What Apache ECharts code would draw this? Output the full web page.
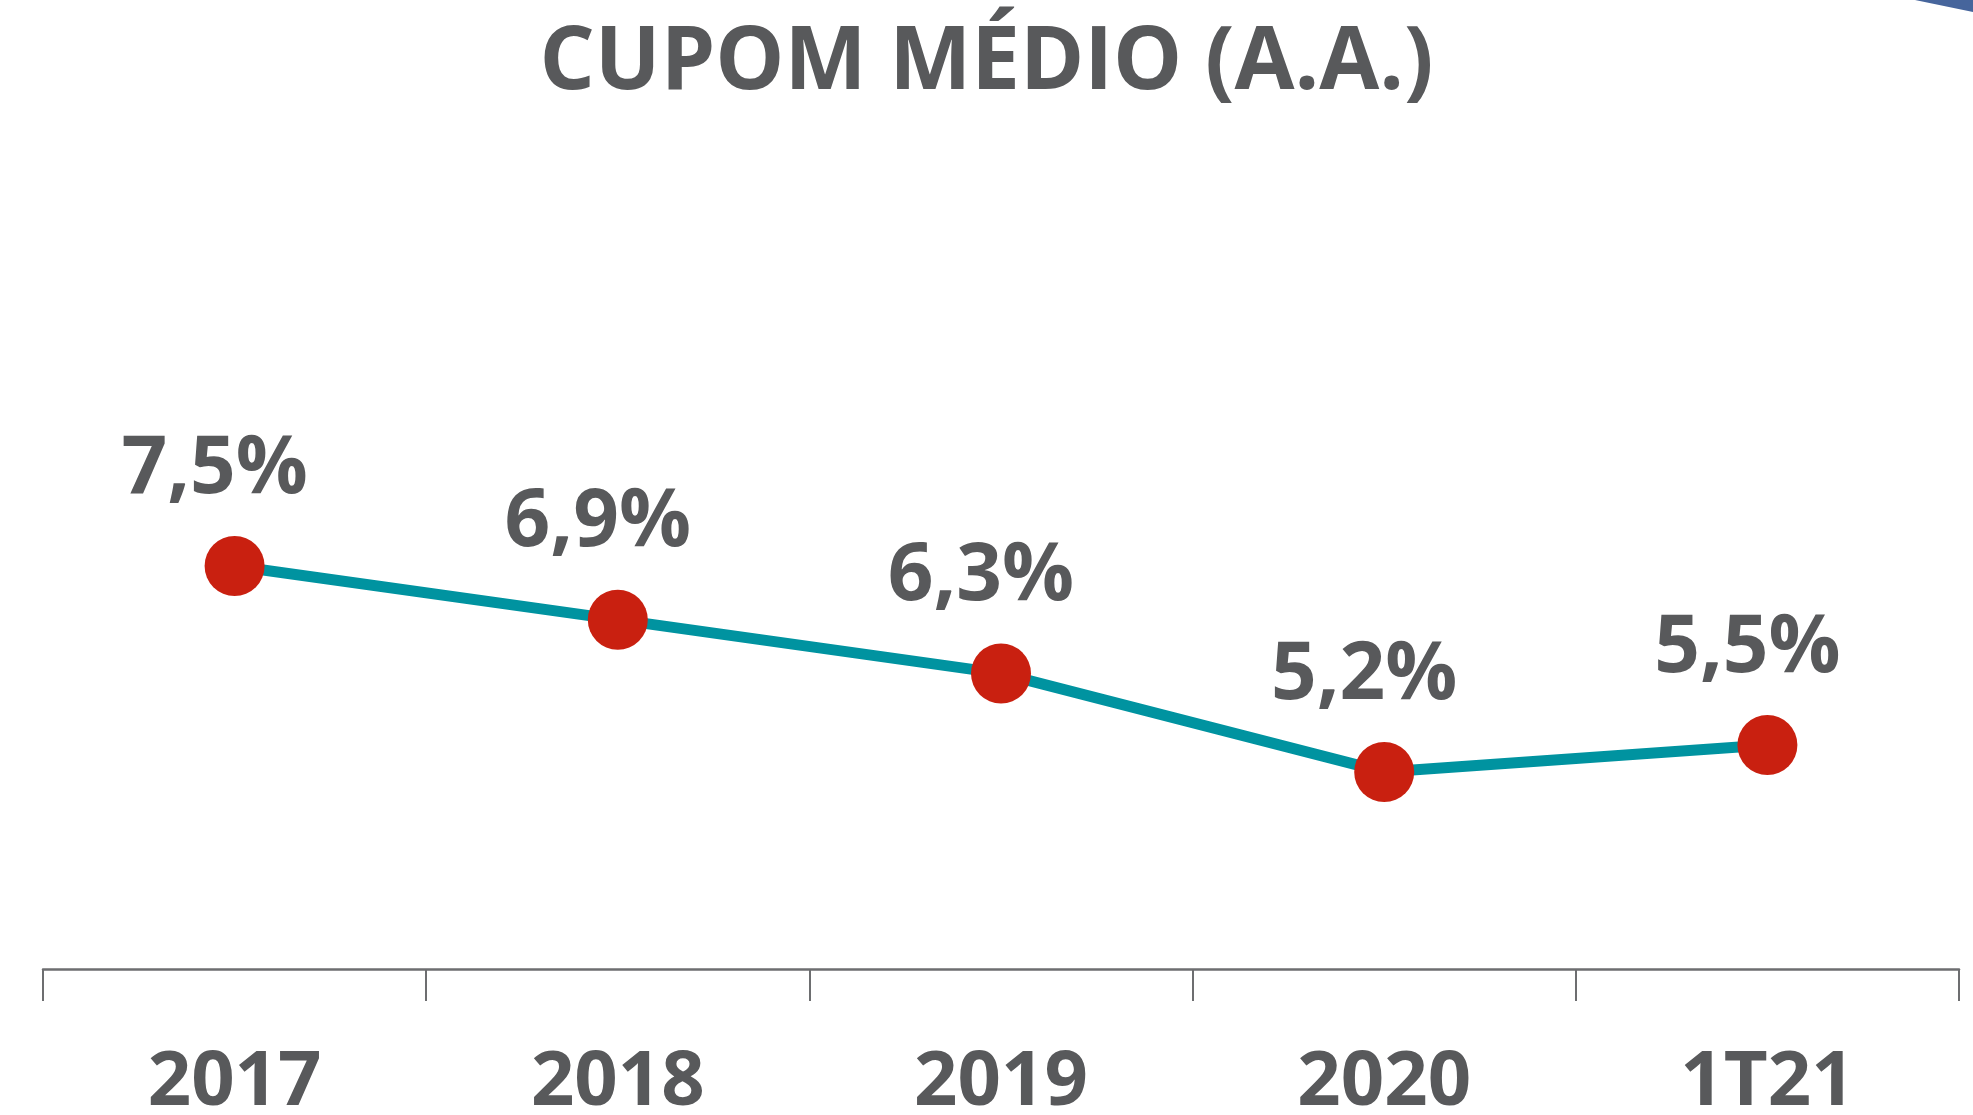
<!DOCTYPE html>
<html>
<head>
<meta charset="utf-8">
<title>Cupom médio (a.a.)</title>
<script src="https://cdn.jsdelivr.net/npm/echarts@6/dist/echarts.min.js"></script>
<style>
  html, body { margin: 0; padding: 0; background: #fff; }
  #chart { width: 1973px; height: 1115px; }
</style>
</head>
<body>
<div id="chart"></div>
<script>
const categories = ['2017', '2018', '2019', '2020', '1T21']
const cupomMedio = [7.5, 6.9, 6.3, 5.2, 5.5]

const textColor = '#58595b'
const fontFamily = '"Open Sans", "Noto Sans", sans-serif'

const chart = echarts.init(document.getElementById('chart'))

chart.setOption({
  animation: false,
  title: {
    text: 'CUPOM MÉDIO (A.A.)',
    left: 'center',
    top: 16,
    textStyle: {
      color: textColor,
      fontFamily: fontFamily,
      fontWeight: 'bold',
      fontSize: 87
    }
  },
  grid: {
    left: 43,
    right: 14,
    top: 342,
    bottom: 146,
    outerBoundsMode: 'none' // não encolher o grid por causa dos rótulos
  },
  xAxis: {
    type: 'category',
    data: categories,
    boundaryGap: true,
    axisLine: {
      show: true,
      lineStyle: { color: '#6d6e70', width: 2.5 }
    },
    axisTick: {
      show: true,
      length: 32,
      lineStyle: { color: '#6d6e70', width: 2 }
    },
    axisLabel: {
      margin: 76,
      color: textColor,
      fontFamily: fontFamily,
      fontWeight: 'bold',
      fontSize: 76
    }
  },
  yAxis: {
    type: 'value',
    show: false,
    min: 3,
    max: 10,
    splitLine: { show: false }
  },
  series: [
    {
      type: 'line',
      data: cupomMedio,
      symbol: 'circle',
      symbolSize: 60,
      itemStyle: { color: '#c92010' },
      lineStyle: { color: '#0093a0', width: 11 },
      label: {
        show: true,
        position: 'top',
        distance: 26,
        offset: [-20, 0],
        color: textColor,
        fontFamily: fontFamily,
        fontWeight: 'bold',
        fontSize: 80,
        formatter: p => p.value.toFixed(1).replace('.', ',') + '%'
      }
    }
  ],
  graphic: [
    {
      // pedaço do gráfico vizinho no canto
      type: 'polygon',
      shape: { points: [[1915, 0], [1973, 0], [1973, 12]] },
      style: { fill: '#46659c' }
    }
  ]
})
</script>
</body>
</html>
